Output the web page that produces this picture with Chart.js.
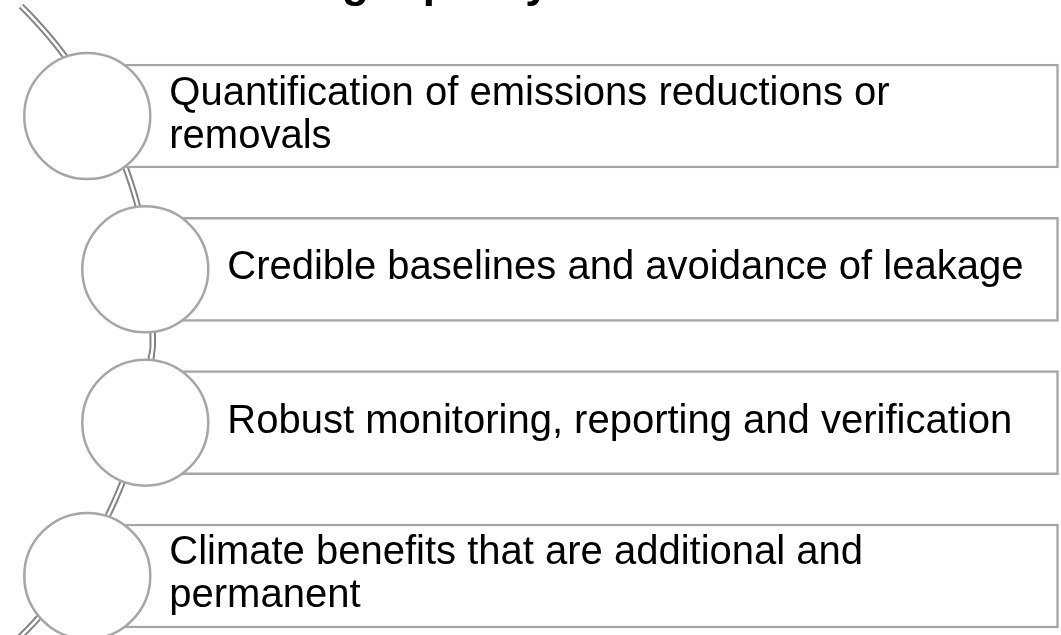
<!DOCTYPE html>
<html>
<head>
<meta charset="utf-8">
<script src="https://cdn.jsdelivr.net/npm/chart.js@4.4.1/dist/chart.umd.min.js"></script>
<style>
  html, body { margin: 0; padding: 0; background: #fff; }
  #wrap { width: 1061px; height: 635px; position: relative; }
</style>
</head>
<body>
<div id="wrap"><canvas id="listChart"></canvas></div>
<script>
// Items of the vertical circle list (one box per item, lines as drawn)
var titleText = 'High quality carbon credits';
var items = [
    ['Quantification of emissions reductions or', 'removals'],
    ['Credible baselines and avoidance of leakage'],
    ['Robust monitoring, reporting and verification'],
    ['Climate benefits that are additional and', 'permanent']
];

// layout (pixel units on both hidden linear axes)
var W = 1061, H = 635;
var rowTop = 116, rowStep = 153.33;
var arcCx = -289, arcCy = 346, arcR = 441;      // circles sit on this arc
var linkCy = 321, linkR = 442;                  // connector arc
var boxRight = 1058.5;
var grey = '#a6a6a6';

var rowY = items.map(function (t, i) { return rowTop + i * rowStep; });
var rowX = rowY.map(function (y) {
    return arcCx + Math.sqrt(arcR * arcR - (y - arcCy) * (y - arcCy));
});

var circles = rowY.map(function (y, i) { return { x: rowX[i], y: y, r: 63 }; });
var boxes = rowY.map(function (y, i) { return { x: [rowX[i], boxRight], y: y }; });

// connector starts just below the top edge and runs off the bottom
var link = [];
for (var k = 0; k <= 80; k++) {
    var y = 6 + k * (H + 20 - 6) / 80;
    link.push({ x: arcCx + Math.sqrt(linkR * linkR - (y - linkCy) * (y - linkCy)), y: y });
}

var labelPlugin = {
    id: 'itemLabels',
    afterDatasetsDraw: function (chart) {
        var ctx = chart.ctx, xs = chart.scales.x, ys = chart.scales.y;
        ctx.save();
        ctx.fillStyle = '#000';
        ctx.textAlign = 'left';
        ctx.textBaseline = 'alphabetic';
        ctx.font = '40px "Liberation Sans", Arial, sans-serif';
        items.forEach(function (lines, i) {
            var x = xs.getPixelForValue(rowX[i]) + 82;
            var cy = ys.getPixelForValue(rowY[i]);
            lines.forEach(function (line, j) {
                ctx.fillText(line, x, cy + 10 + (j - (lines.length - 1) / 2) * 43);
            });
        });
        // title sits above the visible area, only descenders show
        ctx.font = 'bold 44px "Liberation Sans", Arial, sans-serif';
        ctx.fillText(titleText, 298, -3.5);
        ctx.restore();
    }
};

var ctx = document.getElementById('listChart').getContext('2d');
var listChart = new Chart(ctx, {
    type: 'bar',
    data: {
        datasets: [{
            type: 'bubble',
            label: 'circles',
            data: circles,
            backgroundColor: '#fff',
            borderColor: grey,
            borderWidth: 2.5,
            order: 0
        },
        {
            type: 'bar',
            label: 'boxes',
            indexAxis: 'y',
            data: boxes,
            backgroundColor: '#fff',
            borderColor: grey,
            borderWidth: 2.5,
            borderSkipped: false,
            barThickness: 104,
            order: 1
        },
        {
            type: 'line',
            label: 'link inner',
            data: link,
            borderColor: '#fff',
            borderWidth: 2.5,
            pointRadius: 0,
            order: 2
        },
        {
            type: 'line',
            label: 'link outer',
            data: link,
            borderColor: '#858585',
            borderWidth: 6.5,
            pointRadius: 0,
            order: 3
        }]
    },
    options: {
        responsive: true,
        maintainAspectRatio: false,
        animation: false,
        layout: { padding: 0, autoPadding: false },
        plugins: {
            legend: { display: false },
            tooltip: { enabled: false }
        },
        scales: {
            x: { type: 'linear', min: 0, max: W, offset: false, display: false },
            y: { type: 'linear', min: 0, max: H, reverse: true, offset: false, display: false }
        }
    },
    plugins: [labelPlugin]
});
</script>
</body>
</html>
